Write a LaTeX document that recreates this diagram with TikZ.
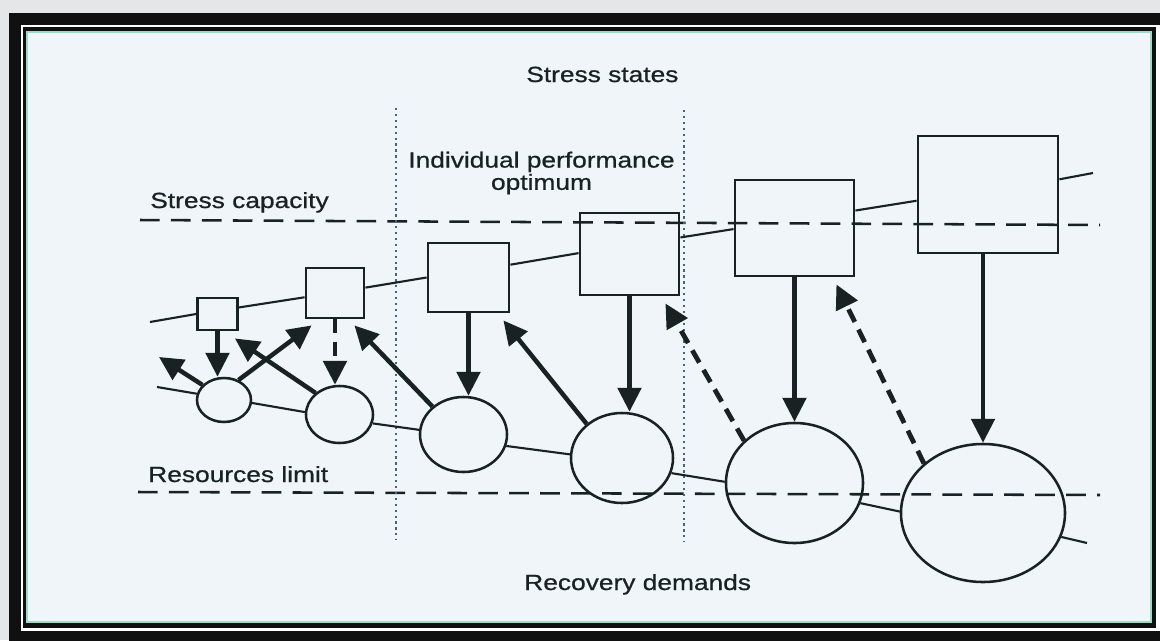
\documentclass[tikz,border=0pt]{standalone}
\usepackage{fontspec}
\setmainfont{Liberation Sans}[FakeStretch=1.2, FakeBold=0.7]
\usetikzlibrary{shapes.geometric, arrows.meta, calc}
\definecolor{ink}{RGB}{24,34,34}
\definecolor{bggray}{RGB}{228,230,232}
\definecolor{framecol}{RGB}{16,16,16}
\definecolor{paper}{RGB}{240,245,249}
\definecolor{mint}{RGB}{160,218,196}
\definecolor{dotcol}{RGB}{70,100,125}
\newcommand{\lblfont}{\fontsize{15.6}{15.8}\selectfont}
\tikzstyle{box} = [rectangle, draw=ink, line width=2pt, inner sep=0pt]
\tikzstyle{res} = [ellipse, draw=ink, line width=1.8pt, inner sep=0pt]
\tikzstyle{link} = [draw=ink, line width=1.5pt]
\tikzstyle{arrow} = [draw=ink, line width=3.2pt, -{Triangle[length=17pt,width=16.5pt]}]
\tikzstyle{dasharrow} = [arrow, line width=3.4pt, dash pattern=on 10pt off 6pt]
\tikzstyle{limit} = [draw=ink, line width=1.8pt, dash pattern=on 14pt off 8pt]
\tikzstyle{divider} = [draw=dotcol, line width=1.2pt, dash pattern=on 1.6pt off 2.6pt]
\tikzstyle{lbl} = [text=ink, inner sep=0pt, font=\lblfont]
\begin{document}
\begin{tikzpicture}[x=0.025cm, y=-0.025cm]

    % Frame
    \useasboundingbox (0,0) rectangle (1160,640);
    \fill[bggray] (0,0) rectangle (1160,640);
    \fill[framecol] (9,13) rectangle (1170,650);
    \fill[white] (21,25) rectangle (1170,631);
    \fill[framecol] (23,27) rectangle (1156,628);
    \fill[paper] (26,31) rectangle (1152,623);
    \draw[mint, line width=1.5pt] (27,32) rectangle (1151,622);

    % Stress states
    \node (s1) [box, minimum width=1cm, minimum height=0.8cm] at (217.5,314) {};
    \node (s2) [box, minimum width=1.45cm, minimum height=1.25cm] at (335,293) {};
    \node (s3) [box, minimum width=2.025cm, minimum height=1.725cm] at (468.5,277.5) {};
    \node (s4) [box, minimum width=2.475cm, minimum height=2.05cm] at (629.5,254) {};
    \node (s5) [box, minimum width=2.975cm, minimum height=2.4cm] at (794.5,228) {};
    \node (s6) [box, minimum width=3.5cm, minimum height=2.925cm] at (988,194.5) {};

    % Resources
    \node (r1) [res, minimum width=1.35cm, minimum height=1.1cm] at (224,400) {};
    \node (r2) [res, minimum width=1.675cm, minimum height=1.425cm] at (339.5,414.5) {};
    \node (r3) [res, minimum width=2.175cm, minimum height=1.875cm] at (463.5,434.5) {};
    \node (r4) [res, minimum width=2.55cm, minimum height=2.25cm] at (622,458) {};
    \node (r5) [res, minimum width=3.425cm, minimum height=3cm] at (794.5,483) {};
    \node (r6) [res, minimum width=4.1cm, minimum height=3.45cm] at (983,513) {};

    % Loose ends
    \coordinate (sin) at (150,322);
    \coordinate (sout) at (1093,173);
    \coordinate (rin) at (157,387);
    \coordinate (rout) at (1087,543);
    \coordinate (spill) at (159,357);

    % Labels
    \node (tstates) [lbl, anchor=base west] at (526,82) {Stress states};
    \node (toptimum) [lbl, align=center] at (541.5,173) {Individual performance\\optimum};
    \node (tcapacity) [lbl, anchor=base west] at (150,208) {Stress capacity};
    \node (tlimit) [lbl, anchor=base west] at (148,482) {Resources limit};
    \node (tdemands) [lbl, anchor=base west] at (524,590) {Recovery demands};

    % Limits and dividers
    \draw [limit] (140,220) -- (1100,225);
    \draw [limit] (138,492) -- (1100,495);
    \draw [divider] (396,108) -- (396,540);
    \draw [divider] (684,110) -- (684,542);

    % Chains
    \draw [link] (sin) -- (s1.west);
    \draw [link] (s1.17) -- (s2.188);
    \draw [link] (s2.10) -- (s3.west);
    \draw [link] (s3.17) -- (s4.179);
    \draw [link] (s4.18) -- (s5.181);
    \draw [link] (s5.16) -- (s6.185);
    \draw [link] (s6.12) -- (sout);

    \draw [link] (rin) -- (r1.167);
    \draw [link] (r1.354) -- (r2.176);
    \draw [link] (r2.345) -- (r3.174);
    \draw [link] (r3.345) -- (r4.176);
    \draw [link] (r4.343) -- (r5.179);
    \draw [link] (r5.343) -- (r6.179);
    \draw [link] (r6.343) -- (rout);

    % Arrows
    \draw [arrow] (s1.south) -- (s1.south |- r1.north);
    \draw [arrow] (r1.145) -- (spill);
    \draw [arrow] (r1.54) -- ($(s2.south west)+(7,6)$);
    \draw [arrow] (r2.138) -- ($(s1.south east)+(-4,7)$);
    \draw [dasharrow] (s2.south) -- (s2.south |- r2.north);
    \draw [arrow] (r3.138) -- ($(s2.south east)+(-11,6)$);
    \draw [arrow] (s3.south) -- (s3.south |- r3.north);
    \draw [arrow] (r4.136) -- ($(s3.south east)+(-7,7)$);
    \draw [arrow] (s4.south) -- (s4.south |- r4.north);
    \draw [dasharrow] (r5.140) -- ($(s4.south east)+(-15,7)$);
    \draw [arrow] (s5.south) -- (s5.south |- r5.north);
    \draw [dasharrow] (r6.140) -- ($(s5.south east)+(-19,7)$);
    \draw [arrow] (s6.south -| r6.north) -- (r6.north);

\end{tikzpicture}
\end{document}
